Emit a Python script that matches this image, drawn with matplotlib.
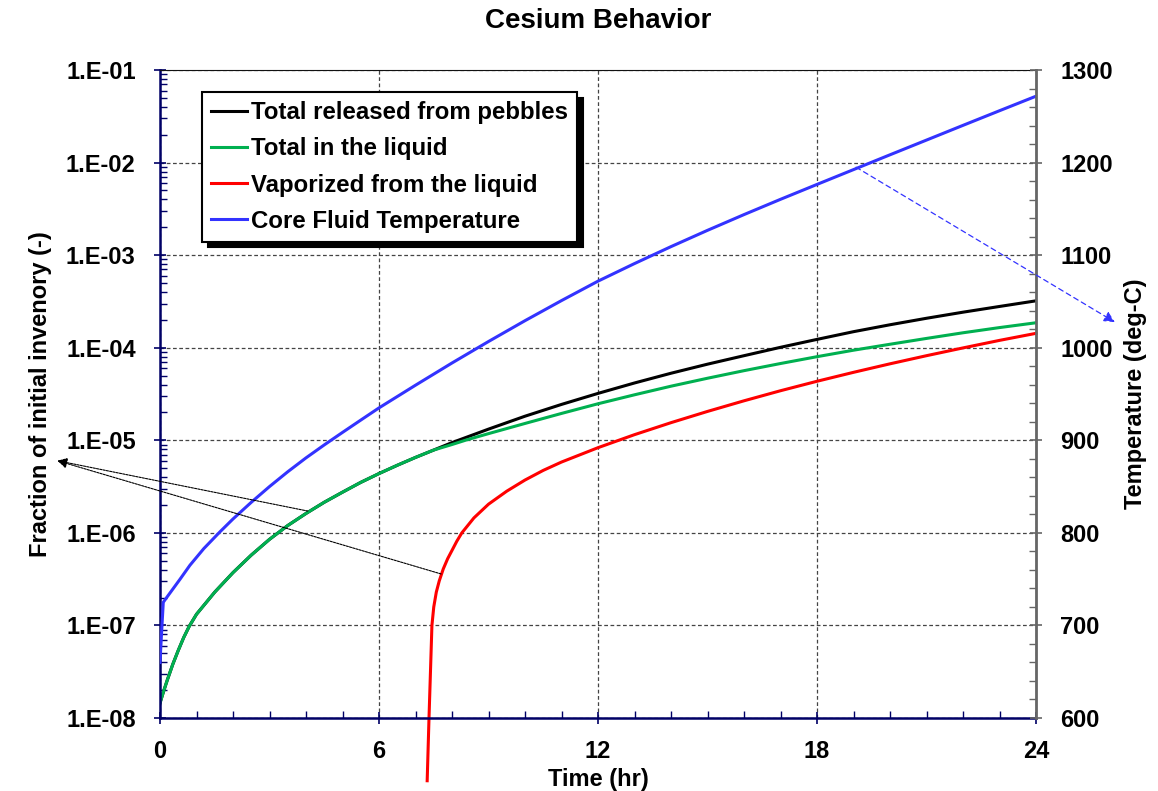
import matplotlib.pyplot as plt
import numpy as np
from matplotlib.ticker import MultipleLocator, FuncFormatter, LogLocator, NullFormatter

plt.rcParams['font.family'] = ['Liberation Sans', 'DejaVu Sans']
plt.rcParams['font.weight'] = 'bold'

# values
t_released = [0, 0.1, 0.2, 0.35, 0.5, 0.65, 0.8, 1.0, 1.5, 2.0, 2.5, 3.0, 3.5, 4.0, 4.5,
              5.0, 5.5, 6.0, 6.5, 7.0, 7.5, 8, 9, 10, 11, 12, 13, 14, 15, 16, 17, 18,
              19, 20, 21, 22, 23, 24]
released = [1.45e-8, 1.95e-8, 2.57e-8, 3.80e-8, 5.37e-8, 7.41e-8, 9.77e-8, 1.32e-7, 2.29e-7,
            3.72e-7, 5.75e-7, 8.51e-7, 1.20e-6, 1.62e-6, 2.14e-6, 2.75e-6, 3.51e-6, 4.37e-6,
            5.37e-6, 6.53e-6, 7.85e-6, 9.44e-6, 1.32e-5, 1.82e-5, 2.44e-5, 3.21e-5, 4.16e-5,
            5.30e-5, 6.64e-5, 8.20e-5, 1.01e-4, 1.23e-4, 1.49e-4, 1.77e-4, 2.08e-4, 2.42e-4,
            2.79e-4, 3.21e-4]

t_liquid = [0, 0.1, 0.2, 0.35, 0.5, 0.65, 0.8, 1.0, 1.5, 2.0, 2.5, 3.0, 3.5, 4.0, 4.5,
            5.0, 5.5, 6.0, 6.5, 7.0, 7.5, 8.0, 8.4, 9, 10, 11, 12, 13, 14, 15, 16, 17, 18,
            19, 20, 21, 22, 23, 24]
liquid = [1.45e-8, 1.95e-8, 2.57e-8, 3.80e-8, 5.37e-8, 7.41e-8, 9.77e-8, 1.32e-7, 2.29e-7,
          3.72e-7, 5.75e-7, 8.51e-7, 1.20e-6, 1.62e-6, 2.14e-6, 2.75e-6, 3.51e-6, 4.37e-6,
          5.37e-6, 6.53e-6, 7.85e-6, 9.0e-6, 1.01e-5, 1.18e-5, 1.52e-5, 1.95e-5, 2.48e-5,
          3.10e-5, 3.84e-5, 4.68e-5, 5.65e-5, 6.75e-5, 8.0e-5, 9.40e-5, 1.09e-4, 1.26e-4,
          1.45e-4, 1.65e-4, 1.86e-4]

t_vapor = [7.32, 7.37, 7.45, 7.5, 7.57, 7.65, 7.76, 7.88, 8.0, 8.13, 8.27, 8.6, 9.0, 9.5,
           10, 10.5, 11, 12, 13, 14, 15, 16, 17, 18, 19, 20, 21, 22, 23, 24]
vapor = [2.1e-9, 1e-8, 1e-7, 1.58e-7, 2.29e-7, 3.02e-7, 4.07e-7, 5.25e-7, 6.46e-7, 8.1e-7,
         1.0e-6, 1.45e-6, 2.04e-6, 2.82e-6, 3.72e-6, 4.73e-6, 5.82e-6, 8.32e-6, 1.15e-5,
         1.55e-5, 2.05e-5, 2.67e-5, 3.43e-5, 4.34e-5, 5.42e-5, 6.70e-5, 8.20e-5, 9.95e-5,
         1.20e-4, 1.43e-4]

t_temp = [0, 0.04, 0.09, 0.18, 0.55, 0.82, 1.2, 1.64, 2.0, 2.5, 3.0, 3.5, 4.0, 4.5, 5.0,
          5.5, 6, 7, 8, 9, 10, 11, 12, 13, 14, 15, 16, 17, 18, 19, 20, 21, 22, 23, 24]
temp = [660, 690, 725, 730, 750, 765, 783, 801, 815, 833, 850, 866, 881, 895, 908.5,
        921.8, 935, 959.5, 983.5, 1006.7, 1029.2, 1050.9, 1071.9, 1090.9, 1109.2, 1126.8,
        1143.8, 1160.3, 1176.4, 1192.4, 1208.4, 1224.3, 1240.2, 1256, 1271.7]

navy = '#000066'
fig = plt.figure(figsize=(11.58, 7.91), dpi=100)
ax = fig.add_axes([160 / 1158, 1 - 718 / 791, 876 / 1158, 648 / 791])
ax2 = ax.twinx()

l1, = ax.plot(t_released, released, color='black', lw=2.2, label='Total released from pebbles')
l2, = ax.plot(t_liquid, liquid, color='#00B050', lw=2.2, label='Total in the liquid')
l3, = ax.plot(t_vapor, vapor, color='#FF0000', lw=2.2, label='Vaporized from the liquid',
              clip_on=False)
l4, = ax2.plot(t_temp, temp, color='#3333FF', lw=2.2, label='Core Fluid Temperature')

ax.set_yscale('log')
ax.set_xlim(0, 24)
ax.set_ylim(1e-8, 1e-1)
ax2.set_ylim(600, 1300)

ax.xaxis.set_major_locator(MultipleLocator(6))
ax.xaxis.set_minor_locator(MultipleLocator(1))
ax.yaxis.set_major_locator(LogLocator(base=10, numticks=20))
ax.yaxis.set_minor_locator(LogLocator(base=10, subs=np.arange(2, 10), numticks=20))
ax.yaxis.set_minor_formatter(NullFormatter())
ax.yaxis.set_major_formatter(FuncFormatter(lambda v, p: "1.E{:03d}".format(int(round(np.log10(v))))))
ax2.yaxis.set_major_locator(MultipleLocator(100))
ax2.yaxis.set_minor_locator(MultipleLocator(20))

ax.tick_params(axis='both', which='major', direction='inout', length=9, width=1.2,
               colors=navy, labelcolor='black', labelsize=17)
ax.tick_params(axis='x', which='major', pad=11)
ax.tick_params(axis='y', which='major', pad=13)
ax.tick_params(axis='both', which='minor', direction='in', length=5, width=1, colors=navy)
ax2.tick_params(axis='y', which='major', direction='inout', length=9, width=1.2,
                colors='#666666', labelcolor='black', labelsize=17, pad=13)
ax2.tick_params(axis='y', which='minor', direction='in', length=5, width=1, colors='#666666')

ax.grid(True, which='major', color='#444444', lw=0.9, linestyle=(0, (3, 2)))

for s in ['left', 'bottom']:
    ax.spines[s].set_color(navy)
    ax.spines[s].set_linewidth(1.8)
ax.spines['top'].set_color('#111111')
ax2.spines['top'].set_visible(False)
ax2.spines['left'].set_visible(False)
ax2.spines['bottom'].set_visible(False)
ax.spines['right'].set_visible(False)
ax2.spines['right'].set_color('#666666')
ax2.spines['right'].set_linewidth(2)

ax.set_xlabel('Time (hr)', fontsize=17, fontweight='bold', labelpad=4)
ax.set_ylabel('Fraction of initial invenory (-)', fontsize=17, fontweight='bold', labelpad=10)
ax2.set_ylabel('Temperature (deg-C)', fontsize=17, fontweight='bold', labelpad=8)
ax.set_title('Cesium Behavior', fontsize=20, fontweight='bold', pad=30)

leg = ax2.legend(handles=[l1, l2, l3, l4], loc='upper left', bbox_to_anchor=(0.048, 0.966),
                 borderaxespad=0, fontsize=17.3, fancybox=False, edgecolor='black',
                 framealpha=1, handlelength=1.5, handletextpad=0.15, labelspacing=0.55,
                 borderpad=0.38, shadow={'color': 'black', 'alpha': 1, 'ox': 4, 'oy': -4})
leg.get_frame().set_linewidth(1.5)
for txt in leg.get_texts():
    txt.set_fontweight('bold')

# arrows pointing to the axes
for tail in [(4.05, 1.72e-6), (7.7, 3.6e-7)]:
    ax2.annotate('', xy=(-0.117, 0.397), xycoords=ax.transAxes, xytext=tail,
                 textcoords=ax.transData, annotation_clip=False,
                 arrowprops=dict(arrowstyle='-|>', color='black', lw=0.8,
                                 linestyle=(0, (2, 1)), mutation_scale=14, shrinkA=0, shrinkB=0))
ax2.annotate('', xy=(1.09, 0.611), xycoords=ax.transAxes, xytext=(19.07, 1195),
             textcoords=ax2.transData, annotation_clip=False,
             arrowprops=dict(arrowstyle='-|>', color='#3333FF', lw=0.9,
                             linestyle=(0, (4, 3)), mutation_scale=16, shrinkA=0, shrinkB=0))

fig.savefig('out.png', dpi=100)
